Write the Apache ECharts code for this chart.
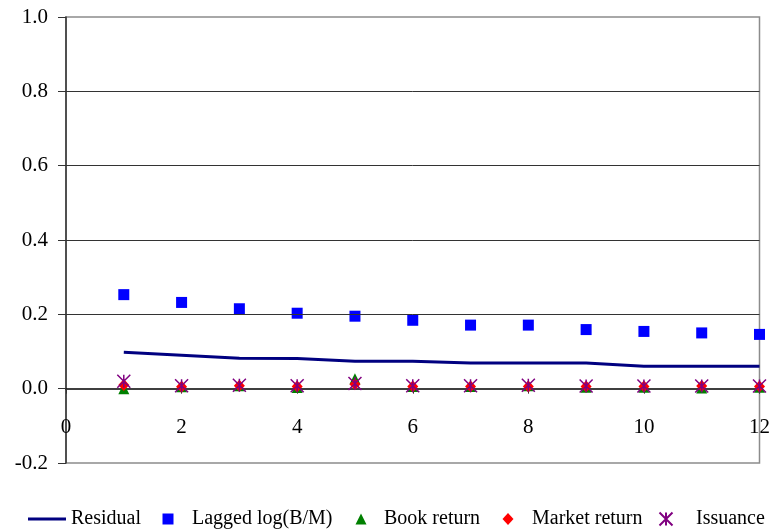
<!DOCTYPE html>
<html>
<head>
<meta charset="utf-8">
<script src="https://cdn.jsdelivr.net/npm/echarts@6/dist/echarts.min.js"></script>
<style>
html,body{margin:0;padding:0;background:#fff;}
#chart{width:773px;height:531px;}
</style>
</head>
<body>
<div id="chart"></div>
<script>
var horizons = [1,2,3,4,5,6,7,8,9,10,11,12];
var residual = [0.098,0.090,0.082,0.081,0.074,0.074,0.069,0.069,0.069,0.060,0.060,0.060];
var laggedBM = [0.253,0.232,0.215,0.203,0.195,0.184,0.171,0.171,0.159,0.154,0.150,0.146];
var bookReturn = [0.000,0.005,0.008,0.003,0.027,0.006,0.006,0.008,0.004,0.004,0.002,0.004];
var marketReturn = [0.010,0.005,0.008,0.006,0.012,0.006,0.006,0.006,0.006,0.006,0.007,0.006];
var issuance = [0.020,0.008,0.009,0.008,0.014,0.008,0.008,0.009,0.007,0.007,0.007,0.007];
var gridTicks = [0.2,0.4,0.6,0.8];
var seriesNames = ['Residual','Lagged log(B/M)','Book return','Market return','Issuance'];

function pairs(ys){ return horizons.map(function(x,i){ return [x, ys[i]]; }); }

var FONT = 'Liberation Serif';
var starPath = 'path://M0,0L10,10M10,0L0,10M5,0L5,10';

var chart = echarts.init(document.getElementById('chart'), null, {renderer:'canvas'});
function legendItem(name, icon, left, w, h, pad){
  return {
    data:[{name:name, icon:icon}], left:left, top:509, padding:0, itemWidth:w, itemHeight:h, itemGap:0,
    textStyle:{fontFamily:FONT, fontSize:20, color:'#000', padding:[0,0,0,pad]}, selectedMode:false
  };
}
chart.setOption({
  animation:false,
  backgroundColor:'#fff',
  grid:{left:66, right:10, top:17, bottom:68, show:true, borderColor:'#8c8c8c', borderWidth:1.5, backgroundColor:'transparent'},
  legend:[
    legendItem(seriesNames[0], 'rect', 28, 38, 3, 0),
    legendItem(seriesNames[1], 'rect', 162.5, 11, 11, 13.5),
    legendItem(seriesNames[2], 'triangle', 355.5, 11, 11, 12.5),
    legendItem(seriesNames[3], 'diamond', 502.5, 11, 12, 13.5),
    legendItem(seriesNames[4], starPath, 658.5, 13, 13, 18.5)
  ],
  xAxis:{
    type:'value', min:0, max:12, interval:2,
    axisLine:{show:true, onZero:true, lineStyle:{color:'#000', width:1.5}},
    axisTick:{show:true, length:5, lineStyle:{color:'#333'}},
    splitLine:{show:false},
    axisLabel:{fontFamily:FONT, fontSize:21, color:'#000', margin:-46}
  },
  yAxis:{
    type:'value', min:-0.2, max:1.0, interval:0.2,
    axisLine:{show:true, lineStyle:{color:'#333', width:1.5}},
    axisTick:{show:true, length:8, lineStyle:{color:'#333'}},
    splitLine:{show:false},
    axisLabel:{fontFamily:FONT, fontSize:21, color:'#000', margin:18,
      formatter:function(v){ return v.toFixed(1); }}
  },
  series:[
    {name:seriesNames[0], type:'line', data:pairs(residual), symbol:'none',
      lineStyle:{color:'#000080', width:3}, itemStyle:{color:'#000080'},
      markLine:{silent:true, symbol:'none', label:{show:false},
        lineStyle:{color:'#333', type:'solid', width:1},
        data:gridTicks.map(function(v){ return {yAxis:v}; })}},
    {name:seriesNames[1], type:'scatter', data:pairs(laggedBM), symbol:'rect', symbolSize:11,
      itemStyle:{color:'#0000ff', opacity:1}},
    {name:seriesNames[2], type:'scatter', data:pairs(bookReturn), symbol:'triangle', symbolSize:11,
      itemStyle:{color:'#008000', opacity:1}},
    {name:seriesNames[3], type:'scatter', data:pairs(marketReturn), symbol:'diamond', symbolSize:[11,12],
      itemStyle:{color:'#ff0000', opacity:1}},
    {name:seriesNames[4], type:'scatter', data:pairs(issuance), symbol:starPath, symbolSize:13,
      itemStyle:{color:'#800080', borderColor:'#800080', borderWidth:1.5, opacity:1}}
  ]
});
</script>
</body>
</html>
